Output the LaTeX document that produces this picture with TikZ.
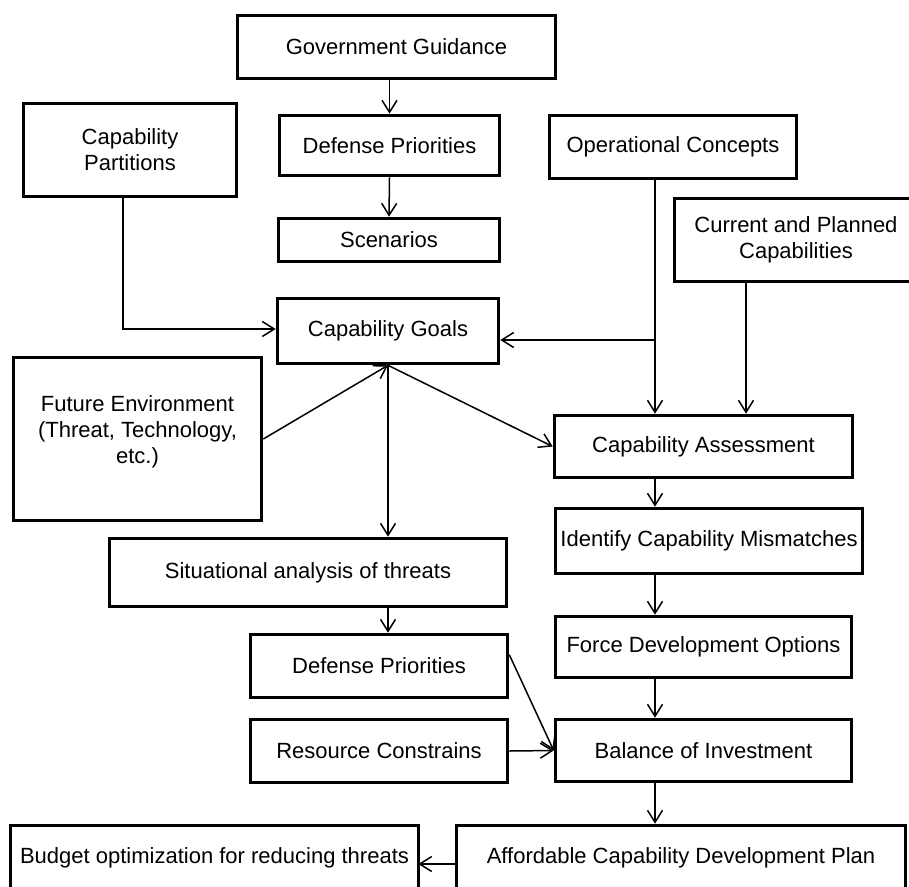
\documentclass[tikz,border=0pt]{standalone}
\usepackage{fontspec}
\setmainfont{Liberation Sans}
\usetikzlibrary{arrows.meta}
\begin{document}
\begin{tikzpicture}[x=1pt,y=-1pt,
  box/.style={draw, line width=3.6pt, inner sep=0pt, align=center},
  lbl/.style={inner sep=0pt, align=center},
  conn/.style={line width=1.5pt, -{Straight Barb[length=12pt,width=15pt,line width=1.5pt]}},
  plain/.style={line width=1.5pt},
  every node/.style={font=\fontsize{22}{26}\selectfont}]
\useasboundingbox (0,0) rectangle (909,886);
\node[box, minimum width=318, minimum height=63] (gg) at (396.5,47) {Government Guidance};
\node[box, minimum width=220, minimum height=60] (dp1) at (389.5,145.5) {Defense Priorities};
\node[box, minimum width=221, minimum height=43] (sc) at (389,240) {Scenarios};
\node[box, minimum width=213, minimum height=93] (cp) at (130,150) {Capability\\Partitions};
\node[box, minimum width=247, minimum height=63] (oc) at (673,147) {Operational Concepts};
\node[box, minimum width=243, minimum height=83] (cpc) at (796,240) {Current and Planned\\Capabilities};
\node[box, minimum width=221, minimum height=65] (cg) at (388,331) {Capability Goals};
\node[box, minimum width=248, minimum height=163] (fe) at (137.5,439) {};
\node[lbl] (fet) at (137.5,432) {Future Environment\\(Threat, Technology,\\etc.)};
\node[box, minimum width=298, minimum height=62] (ca) at (703.5,446.5) {Capability Assessment};
\node[box, minimum width=307, minimum height=65] (icm) at (709,541) {Identify Capability Mismatches};
\node[box, minimum width=397, minimum height=68] (sit) at (308,572.5) {Situational analysis of threats};
\node[box, minimum width=296, minimum height=61] (fdo) at (703.5,647) {Force Development Options};
\node[box, minimum width=257, minimum height=63] (dp2) at (379,666) {Defense Priorities};
\node[box, minimum width=257, minimum height=63] (rc) at (379,751) {Resource Constrains};
\node[box, minimum width=296, minimum height=62] (boi) at (703.5,750.5) {Balance of Investment};
\node[box, minimum width=408, minimum height=65] (bud) at (214.5,858) {Budget optimization for reducing threats};
\node[box, minimum width=449, minimum height=65] (acdp) at (681,858) {Affordable Capability Development Plan};
\coordinate (j1) at (655,340);
\coordinate (j2) at (746,300);
% connectors
\draw[conn] (dp1.north |- gg.south) -- (dp1.north);
\draw[conn] (dp1.south) -- (sc.north);
\draw[conn] ([xshift=-7pt]cp.south) |- ([yshift=2pt]cg.west);
\draw[plain] (oc.south -| j1) -- (j1);
\draw[conn] (j1) -- (cg.east |- j1);
\draw[conn] (j1) -- (j1 |- ca.north);
\draw[conn] (cpc.south -| j2) -- (ca.north -| j2);
\draw[conn] (cg.south) -- (ca.west);
\draw[conn] (fe.east) -- (cg.south);
\draw[conn] (cg.south) -- (cg.south |- sit.north);
\draw[conn] (cg.south |- sit.south) -- (cg.south |- dp2.north);
\draw[conn] (j1 |- ca.south) -- (j1 |- icm.north);
\draw[conn] (j1 |- icm.south) -- (j1 |- fdo.north);
\draw[conn] (j1 |- fdo.south) -- (j1 |- boi.north);
\draw[conn] (j1 |- boi.south) -- (j1 |- acdp.north);
\draw[conn] (rc.east) -- (boi.west);
\draw[conn] ([yshift=-22pt]dp2.north east) -- (boi.west);
\draw[conn] ([yshift=-6pt]acdp.west) -- ([yshift=-6pt,xshift=-2pt]acdp.west -| bud.east);
\end{tikzpicture}
\end{document}
